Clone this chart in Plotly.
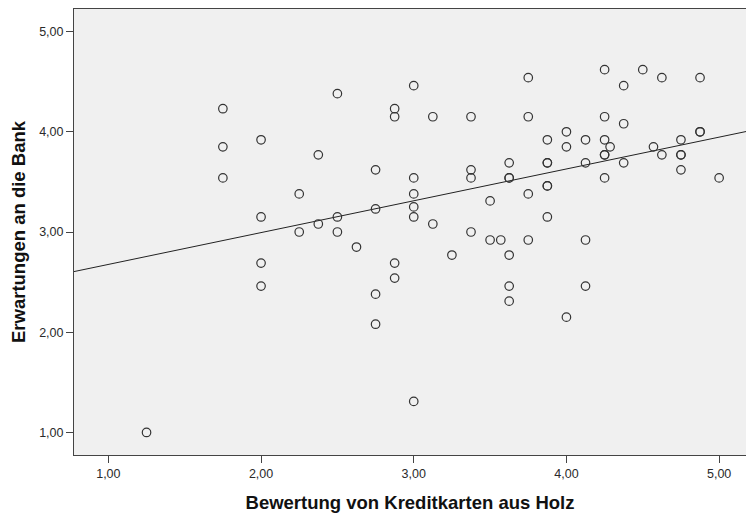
import numpy as np
import plotly.graph_objects as go

# Bewertung von Kreditkarten aus Holz (x) vs. Erwartungen an die Bank (y)
bewertung = [
    1.25, 1.75, 1.75, 1.75, 2.00, 2.00, 2.00, 2.00, 2.25, 2.25,
    2.375, 2.375, 2.50, 2.50, 2.50, 2.625, 2.75, 2.75, 2.75, 2.75,
    2.875, 2.875, 2.875, 2.875, 3.00, 3.00, 3.00, 3.00, 3.00, 3.00,
    3.125, 3.125, 3.25, 3.375, 3.375, 3.375, 3.375, 3.50, 3.50, 3.57,
    3.625, 3.625, 3.625, 3.625, 3.625, 3.625, 3.75, 3.75, 3.75, 3.75,
    3.875, 3.875, 3.875, 3.875, 3.875, 3.875, 4.00, 4.00, 4.00, 4.125,
    4.125, 4.125, 4.125, 4.25, 4.25, 4.25, 4.25, 4.25, 4.25, 4.286,
    4.375, 4.375, 4.375, 4.50, 4.57, 4.625, 4.625, 4.75, 4.75, 4.75,
    4.75, 4.875, 4.875, 4.875, 5.00,
]
erwartungen = [
    1.00, 4.23, 3.85, 3.54, 3.92, 3.15, 2.69, 2.46, 3.38, 3.00,
    3.77, 3.08, 4.38, 3.15, 3.00, 2.85, 3.62, 3.23, 2.38, 2.08,
    4.23, 4.15, 2.69, 2.54, 4.46, 3.54, 3.38, 3.25, 3.15, 1.31,
    4.15, 3.08, 2.77, 4.15, 3.62, 3.54, 3.00, 3.31, 2.92, 2.92,
    3.69, 3.54, 3.54, 2.77, 2.46, 2.31, 4.54, 4.15, 3.38, 2.92,
    3.92, 3.69, 3.69, 3.46, 3.46, 3.15, 4.00, 3.85, 2.15, 3.92,
    3.69, 2.92, 2.46, 4.62, 4.15, 3.92, 3.77, 3.77, 3.54, 3.85,
    4.46, 4.08, 3.69, 4.62, 3.85, 4.54, 3.77, 3.92, 3.77, 3.77,
    3.62, 4.54, 4.00, 4.00, 3.54,
]

# Linear fit line
fit_intercept = 2.359
fit_slope = 0.3175

x_range = [0.775, 5.176]
y_range = [0.775, 5.225]

font_family = "Liberation Sans, Arial, sans-serif"
axis_color = "#444444"

fig = go.Figure()

fit_x = np.array(x_range)
fig.add_trace(go.Scatter(
    x=fit_x,
    y=fit_intercept + fit_slope * fit_x,
    mode='lines',
    line=dict(color='#222222', width=1),
    hoverinfo='skip',
    showlegend=False
))

fig.add_trace(go.Scatter(
    x=bewertung,
    y=erwartungen,
    mode='markers',
    marker=dict(symbol='circle-open', size=8.5, color='#333333',
                line=dict(width=1.2, color='#333333')),
    showlegend=False
))

fig.update_layout(
    width=746,
    height=513,
    margin=dict(l=74, r=0, t=9, b=58),
    paper_bgcolor='white',
    plot_bgcolor='#f0f0f0',
    separators=',.',
    font=dict(family=font_family, size=12.5, color='#2a2a2a'),
    xaxis=dict(
        range=x_range,
        automargin=False,
        tickvals=[1, 2, 3, 4, 5],
        tickformat='.2f',
        showgrid=False,
        zeroline=False,
        showline=True,
        linecolor=axis_color,
        linewidth=1,
        mirror=True,
        ticks='outside',
        ticklen=7,
        tickcolor=axis_color,
        title=dict(text='<b>Bewertung von Kreditkarten aus Holz</b>',
                   font=dict(size=18.5, color='#111111'), standoff=17),
    ),
    yaxis=dict(
        range=y_range,
        automargin=False,
        tickvals=[1, 2, 3, 4, 5],
        tickformat='.2f',
        showgrid=False,
        zeroline=False,
        showline=True,
        linecolor=axis_color,
        linewidth=1,
        ticks='outside',
        ticklen=7,
        tickcolor=axis_color,
        title=dict(text='<b>Erwartungen an die Bank</b>',
                   font=dict(size=18.5, color='#111111'), standoff=8),
    ),
)

# page body has a default margin; drop it so the chart sits at 0,0
fig.write_html("out.html",
               config={'displayModeBar': False},
               post_script="document.body.style.margin='0';document.body.style.overflow='hidden';")
